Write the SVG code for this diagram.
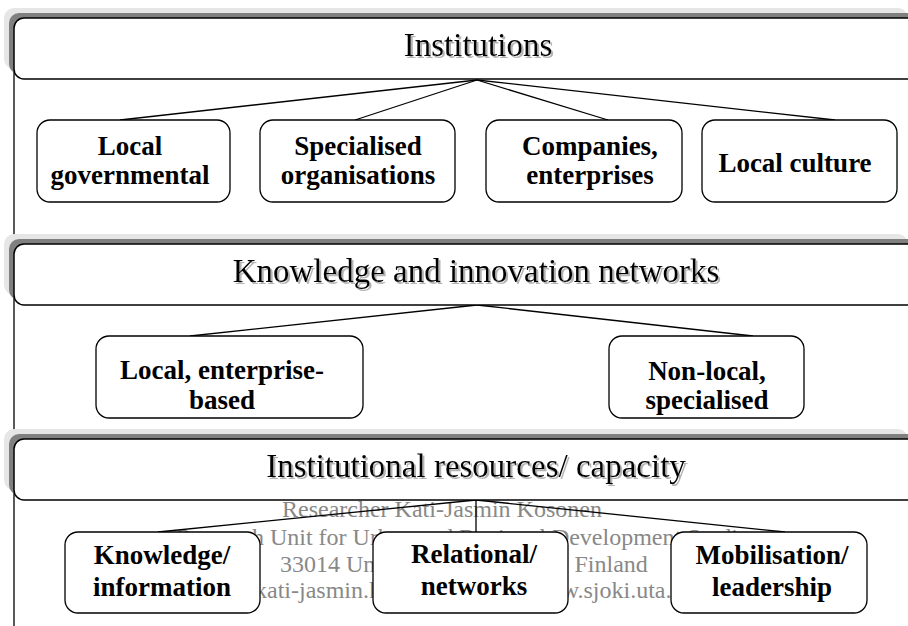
<svg xmlns="http://www.w3.org/2000/svg" width="908" height="626" viewBox="0 0 908 626">
<defs>
<filter id="tshadow" x="-5%" y="-20%" width="110%" height="150%">
<feOffset in="SourceAlpha" dx="2" dy="2" result="o"/>
<feFlood flood-color="#b4b4b4"/>
<feComposite in2="o" operator="in" result="s"/>
<feMerge><feMergeNode in="s"/><feMergeNode in="SourceGraphic"/></feMerge>
</filter>
</defs>
<style>
.hdr{fill:#fff;stroke:#000;stroke-width:1.5}
.sh1{fill:#e6e6e6}
.sh2{fill:#808080}
.ht{font-family:"Liberation Serif","Times New Roman",serif;font-size:33px;text-anchor:middle;fill:#000;filter:url(#tshadow)}
.box{fill:#fff;stroke:#000;stroke-width:1.3}
.bt{font-family:"Liberation Serif","Times New Roman",serif;font-size:27px;font-weight:bold;text-anchor:middle;fill:#000}
.wm{font-family:"Liberation Serif","Times New Roman",serif;font-size:24px;fill:#888}
.con line{stroke:#000;stroke-width:1.3}
</style>
<rect width="908" height="626" fill="#fff"/>
<line x1="14" y1="18" x2="14" y2="626" stroke="#000" stroke-width="1.3"/>

<g id="watermark">
<text class="wm" x="282" y="517">Researcher Kati-Jasmin Kosonen</text>
<text class="wm" x="176" y="545">Research Unit for Urban and Regional Development Studies</text>
<text class="wm" x="280" y="572">33014 University of Tampere, Finland</text>
<text class="wm" x="255" y="598">kati-jasmin.kosonen@uta.fi  www.sjoki.uta.fi</text>
</g>

<g id="connectors" class="con">
<line x1="477" y1="80" x2="120" y2="120"/>
<line x1="477" y1="80" x2="355" y2="120"/>
<line x1="477" y1="80" x2="608" y2="120"/>
<line x1="477" y1="80" x2="835" y2="120"/>
<line x1="477" y1="305" x2="190" y2="336"/>
<line x1="477" y1="305" x2="753" y2="336"/>
<line x1="476" y1="500" x2="158" y2="532"/>
<line x1="476" y1="500" x2="476" y2="532"/>
<line x1="476" y1="500" x2="785" y2="532"/>
</g>

<g id="h-institutions">
<rect class="sh1" x="4" y="8" width="904" height="61" rx="10"/>
<rect class="sh2" x="9" y="13" width="910" height="61" rx="10"/>
<rect class="hdr" x="14" y="18" width="910" height="61" rx="10"/>
<text class="ht" x="478" y="56">Institutions</text>
</g>

<g id="h-knowledge">
<rect class="sh1" x="4" y="234" width="904" height="61" rx="10"/>
<rect class="sh2" x="9" y="239" width="910" height="61" rx="10"/>
<rect class="hdr" x="14" y="244" width="910" height="61" rx="10"/>
<text class="ht" x="476" y="282">Knowledge and innovation networks</text>
</g>

<g id="h-resources">
<rect class="sh1" x="4" y="429" width="904" height="61" rx="10"/>
<rect class="sh2" x="9" y="434" width="910" height="61" rx="10"/>
<rect class="hdr" x="14" y="439" width="910" height="61" rx="10"/>
<text class="ht" x="476" y="477">Institutional resources/ capacity</text>
</g>

<g id="n-local-gov">
<rect class="box" x="37" y="120" width="193" height="82" rx="13"/>
<text class="bt" x="130" y="155">Local</text>
<text class="bt" x="130" y="184">governmental</text>
</g>
<g id="n-specialised-org">
<rect class="box" x="260" y="120" width="195" height="82" rx="13"/>
<text class="bt" x="358" y="155">Specialised</text>
<text class="bt" x="358" y="184">organisations</text>
</g>
<g id="n-companies">
<rect class="box" x="486" y="120" width="196" height="82" rx="13"/>
<text class="bt" x="590" y="155">Companies,</text>
<text class="bt" x="590" y="184">enterprises</text>
</g>
<g id="n-local-culture">
<rect class="box" x="702" y="120" width="195" height="82" rx="13"/>
<text class="bt" x="795" y="172">Local culture</text>
</g>

<g id="n-local-enterprise">
<rect class="box" x="96" y="336" width="267" height="82" rx="13"/>
<text class="bt" x="222" y="379">Local, enterprise-</text>
<text class="bt" x="222" y="409">based</text>
</g>
<g id="n-nonlocal">
<rect class="box" x="609" y="336" width="195" height="82" rx="13"/>
<text class="bt" x="707" y="380">Non-local,</text>
<text class="bt" x="707" y="409">specialised</text>
</g>

<g id="n-knowledge">
<rect class="box" x="65" y="532" width="195" height="81" rx="13"/>
<text class="bt" x="162" y="564">Knowledge/</text>
<text class="bt" x="162" y="596">information</text>
</g>
<g id="n-relational">
<rect class="box" x="373" y="532" width="195" height="81" rx="13"/>
<text class="bt" x="474" y="563">Relational/</text>
<text class="bt" x="474" y="595">networks</text>
</g>
<g id="n-mobilisation">
<rect class="box" x="671" y="532" width="196" height="81" rx="13"/>
<text class="bt" x="772" y="564">Mobilisation/</text>
<text class="bt" x="772" y="596">leadership</text>
</g>
</svg>
